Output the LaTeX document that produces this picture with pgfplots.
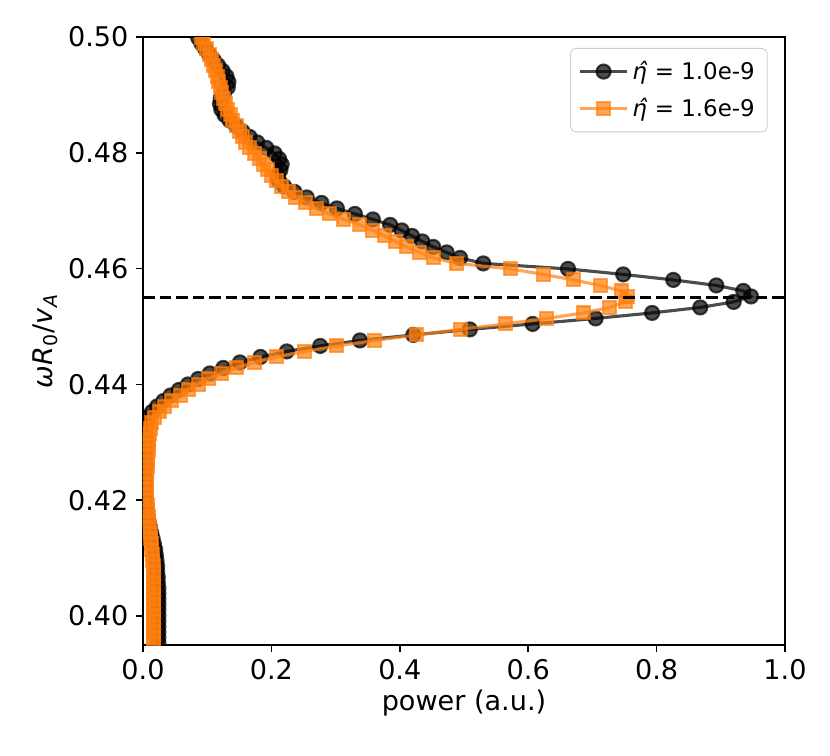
\documentclass[border=0pt]{standalone}
\usepackage{fontspec}
\setmainfont{DejaVu Sans}
\usepackage{pgfplots}
\usepackage{pgfplotstable}
\pgfplotsset{compat=1.18}
\definecolor{tabOrange}{HTML}{FF7F0E}

\pgfplotstableread{
y xb xo
0.39535 0.024 0.017
0.39630 0.024 0.017
0.39725 0.024 0.017
0.39820 0.024 0.017
0.39915 0.024 0.017
0.40010 0.024 0.017
0.40105 0.024 0.017
0.40200 0.024 0.017
0.40295 0.024 0.017
0.40390 0.024 0.017
0.40485 0.024 0.017
0.40580 0.023 0.017
0.40675 0.023 0.016
0.40770 0.022 0.016
0.40865 0.022 0.016
0.40960 0.021 0.015
0.41055 0.020 0.015
0.41150 0.019 0.014
0.41245 0.017 0.013
0.41340 0.015 0.012
0.41435 0.013 0.011
0.41530 0.011 0.010
0.41625 0.009 0.009
0.41720 0.007 0.008
0.41815 0.006 0.007
0.41910 0.005 0.007
0.42005 0.005 0.006
0.42100 0.004 0.006
0.42195 0.004 0.006
0.42290 0.004 0.006
0.42385 0.004 0.006
0.42480 0.004 0.006
0.42575 0.004 0.007
0.42670 0.004 0.007
0.42765 0.004 0.007
0.42860 0.004 0.008
0.42955 0.004 0.008
0.43050 0.004 0.009
0.43145 0.003 0.010
0.43240 0.003 0.011
0.43335 0.004 0.013
0.43430 0.008 0.018
0.43525 0.014 0.025
0.43620 0.022 0.034
0.43715 0.032 0.045
0.43810 0.043 0.058
0.43905 0.056 0.071
0.44000 0.070 0.086
0.44095 0.086 0.102
0.44190 0.104 0.123
0.44285 0.125 0.146
0.44380 0.151 0.174
0.44475 0.183 0.208
0.44570 0.224 0.252
0.44665 0.276 0.302
0.44760 0.338 0.361
0.44855 0.421 0.426
0.44950 0.509 0.494
0.45045 0.607 0.564
0.45140 0.705 0.629
0.45235 0.793 0.686
0.45330 0.868 0.727
0.45425 0.920 0.751
0.45520 0.947 0.755
0.45615 0.935 0.745
0.45710 0.893 0.712
0.45805 0.826 0.670
0.45900 0.748 0.624
0.45995 0.662 0.572
0.46090 0.530 0.489
0.46185 0.494 0.452
0.46280 0.473 0.431
0.46375 0.452 0.411
0.46470 0.435 0.393
0.46565 0.419 0.376
0.46660 0.403 0.358
0.46755 0.385 0.338
0.46850 0.358 0.313
0.46945 0.330 0.290
0.47040 0.302 0.270
0.47135 0.278 0.253
0.47230 0.255 0.238
0.47325 0.236 0.226
0.47420 0.220 0.216
0.47515 0.212 0.208
0.47610 0.210 0.200
0.47705 0.214 0.194
0.47800 0.216 0.188
0.47895 0.212 0.181
0.47990 0.205 0.173
0.48085 0.192 0.166
0.48180 0.178 0.160
0.48275 0.166 0.155
0.48370 0.155 0.150
0.48465 0.145 0.145
0.48560 0.135 0.140
0.48655 0.127 0.136
0.48750 0.122 0.132
0.48845 0.120 0.129
0.48940 0.121 0.126
0.49035 0.126 0.123
0.49130 0.132 0.121
0.49225 0.133 0.118
0.49320 0.130 0.116
0.49415 0.124 0.113
0.49510 0.117 0.110
0.49605 0.110 0.107
0.49700 0.103 0.103
0.49795 0.097 0.099
0.49890 0.091 0.095
0.49985 0.086 0.091
}\spectrum

\begin{document}
\begin{tikzpicture}
\begin{axis}[
  scale only axis,
  width=308.16pt, height=291.84pt,
  xmin=0, xmax=1, ymin=0.395, ymax=0.5,
  xtick={0,0.2,0.4,0.6,0.8,1.0},
  ytick={0.40,0.42,0.44,0.46,0.48,0.50},
  xticklabel style={/pgf/number format/.cd, fixed, fixed zerofill, precision=1},
  yticklabel style={/pgf/number format/.cd, fixed, fixed zerofill, precision=2},
  /pgf/number format/assume math mode=true,
  tick label style={font=\fontsize{13}{15}\selectfont},
  label style={font=\fontsize{13}{15}\selectfont},
  xlabel={power (a.u.)},
  ylabel={\textit{ωR}\textsubscript{0}/\textit{v}\textsubscript{\textit{A}}},
  xlabel style={yshift=2pt},
  ylabel style={yshift=-2pt},
  tick align=outside,
  major tick length=3.5pt,
  tick style={black, line width=0.8pt},
  axis line style={line width=0.8pt},
  xtick pos=bottom, ytick pos=left,
  clip marker paths=true,
  legend style={at={(0.973,0.982)}, anchor=north east,
    font=\fontsize{11}{13}\selectfont, draw=black!20, rounded corners=2.5pt,
    row sep=3.5pt, inner xsep=4pt, inner ysep=4pt},
  legend cell align=left,
  legend image code/.code={\draw[mark repeat=2,mark phase=2] plot coordinates {(0cm,0cm) (0.39cm,0cm) (0.78cm,0cm)};},
]
\addplot[black, opacity=0.7, line width=1.5pt, mark=*, mark size=3.4pt,
  mark options={solid, line width=1pt, fill=black, draw=black}]
  table[x=xb, y=y] {\spectrum};
\addlegendentry{\textit{η̂} = 1.0e-9}
\addplot[tabOrange, opacity=0.7, line width=1.5pt, mark=square*, mark size=3.1pt,
  mark options={solid, line width=1pt, fill=tabOrange, draw=tabOrange}]
  table[x=xo, y=y] {\spectrum};
\addlegendentry{\textit{η̂} = 1.6e-9}
\addplot[black, line width=1.5pt, dash pattern=on 5.55pt off 2.4pt, forget plot]
  coordinates {(0,0.455) (1,0.455)};
\end{axis}
\pgfresetboundingbox
\path ([xshift=-68.64pt,yshift=-52.8pt]current axis.south west) rectangle ([xshift=21.6pt,yshift=17.76pt]current axis.north east);
\end{tikzpicture}
\end{document}
